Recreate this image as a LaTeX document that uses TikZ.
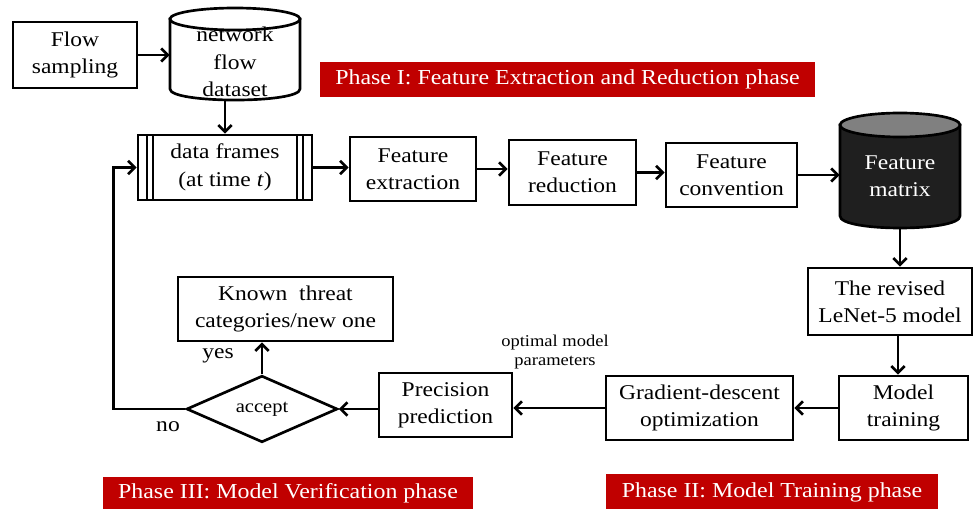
\documentclass[tikz,border=0pt]{standalone}
\usepackage{fontspec}
\setmainfont[FakeStretch=1.12]{Liberation Serif}
\usetikzlibrary{shapes.geometric,arrows.meta}
\definecolor{phasered}{HTML}{C00000}
\definecolor{dbdark}{HTML}{1F1F1F}
\definecolor{dbtop}{HTML}{808080}

\begin{document}
\begin{tikzpicture}[
  x=0.75pt, y=-0.75pt,
  box/.style={rectangle, draw=black, line width=2pt, align=center, inner sep=1pt,
    font=\fontsize{15.75}{20.5}\selectfont},
  dbbox/.style={rectangle, inner sep=0pt, align=center, font=\fontsize{15.75}{20.5}\selectfont},
  phase/.style={rectangle, fill=phasered, text=white, inner sep=0pt,
    font=\fontsize{16}{18}\selectfont},
  decide/.style={diamond, draw=black, line width=2pt, inner sep=0pt,
    font=\fontsize{13.75}{15}\selectfont},
  lbl/.style={inner sep=0pt, align=center},
  arr/.style={-{Straight Barb[length=5pt,width=10pt]}, line width=2pt}
]
\useasboundingbox (0,0) rectangle (975,509);

% Phase I
\node[box, minimum width=93pt, minimum height=49.5pt] (flow) at (75,55) {Flow\\sampling};
\node[dbbox, minimum width=97.5pt, minimum height=69pt] (netdb) at (235,54) {};
\filldraw[fill=white, line width=2pt] (170,19) -- (170,89)
  .. controls (170,103.7) and (300,103.7) .. (300,89) -- (300,19) -- cycle;
\filldraw[fill=white, line width=2pt] (235,19) ellipse [x radius=65, y radius=11];
\node[dbbox] (netdbtext) at (235,62) {network\\flow\\dataset};

\node[box, minimum width=130.5pt, minimum height=48.75pt] (df) at (225,167.5) {data frames\\(at time \textit{t})};
\draw[line width=1.3pt] (147,135) -- (147,200) (153,135) -- (153,200)
  (297,135) -- (297,200) (303,135) -- (303,200);

\node[box, minimum width=94.5pt, minimum height=48pt] (fe) at (413,169) {Feature\\extraction};
\node[box, minimum width=95.25pt, minimum height=48.75pt] (fr) at (572.5,172.5) {Feature\\reduction};
\node[box, minimum width=98.25pt, minimum height=48pt] (fc) at (731.5,175) {Feature\\convention};

\filldraw[fill=dbdark, line width=2pt] (840,125) -- (840,216)
  .. controls (840,232) and (960,232) .. (960,216) -- (960,125) -- cycle;
\filldraw[fill=dbtop, line width=2pt] (900,125) ellipse [x radius=60, y radius=12];
\node[dbbox, text=white, minimum width=90pt, minimum height=86.25pt] (fm) at (900,170.5) {\\[-2pt]Feature\\matrix};

\node[phase, minimum width=371.25pt, minimum height=26.25pt] (phaseone) at (567.5,79.5)
  {Phase I: Feature Extraction and Reduction phase};

% Phase II
\node[box, minimum width=123pt, minimum height=50.25pt] (lenet) at (890,301.5) {The revised\\LeNet-5 model};
\node[box, minimum width=96.75pt, minimum height=48pt] (mt) at (903.5,408) {Model\\training};
\node[box, minimum width=140.25pt, minimum height=48pt] (gd) at (699.5,408) {Gradient-descent\\optimization};
\node[phase, minimum width=249pt, minimum height=26.25pt] (phasetwo) at (772,492)
  {Phase II: Model Training phase};

% Phase III
\node[box, minimum width=99.75pt, minimum height=48pt] (pp) at (445.5,405) {Precision\\prediction};
\node[decide, minimum width=113.25pt, minimum height=47.25pt] (dec) at (262,409) {accept};
\node[box, minimum width=161.25pt, minimum height=48pt] (kt) at (285.5,309) {Known~~threat\\categories/new one};
\node[phase, minimum width=277.5pt, minimum height=25pt] (phasethree) at (288,493.5)
  {Phase III: Model Verification phase};

\node[lbl, font=\fontsize{15.75}{18}\selectfont] (yes) at (218,356) {yes};
\node[lbl, font=\fontsize{15.75}{18}\selectfont] (no) at (168,427) {no};
\node[lbl, font=\fontsize{12.4}{14.5}\selectfont] (optpar) at (555,352) {optimal model\\parameters};

% connectors
\draw[arr] (flow.east) -- (flow.east -| netdb.west);
\draw[arr] (df.north |- netdb.south) -- (df.north);
\draw[arr] (df.east) -- (df.east -| fe.west);
\draw[arr] (fe.east) -- (fe.east -| fr.west);
\draw[arr] (fr.east) -- (fr.east -| fc.west);
\draw[arr] (fc.east) -- (fc.east -| fm.west);
\draw[arr] (fm.south) -- (fm.south |- lenet.north);
\draw[arr] ([xshift=6pt]lenet.south) -- ([xshift=6pt]lenet.south |- mt.north);
\draw[arr] (mt.west) -- (gd.east);
\draw[arr] (gd.west) -- (gd.west -| pp.east);
\draw[arr] (pp.west |- dec.east) -- (dec.east);
\draw[arr] (dec.north) -- (dec.north |- kt.south);
\draw[arr] (dec.west) -- ++(-72,0) |- (df.west);
\end{tikzpicture}
\end{document}
